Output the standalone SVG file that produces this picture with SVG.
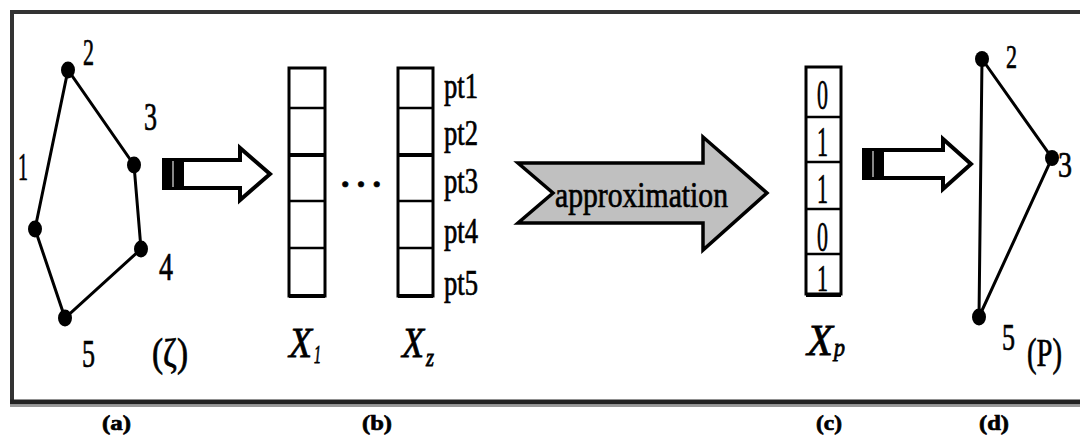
<svg xmlns="http://www.w3.org/2000/svg" width="1080" height="439" viewBox="0 0 1080 439">
<style>
  .t{font-family:"Liberation Serif",serif;fill:#000;stroke:#000;stroke-width:0.7}
  .ti{font-family:"Liberation Serif",serif;font-style:italic;fill:#000;stroke:#000;stroke-width:0.8}
  .edge{stroke:#000;stroke-width:3;fill:none}
  .dot{fill:#000}
  .cell{fill:#fff;stroke:#000;stroke-width:3}
  .div{stroke:#000;stroke-width:2.5}
  .hollow{fill:#fff;stroke:#000;stroke-width:4;stroke-linejoin:miter}
</style>
<rect width="1080" height="439" fill="#fff"/>
<!-- frame -->
<g id="frame">
  <path d="M1080 12 H12 V402" fill="none" stroke="#333" stroke-width="4"/>
  <line x1="10" y1="402" x2="1080" y2="402" stroke="#222" stroke-width="5"/>
  <line x1="10" y1="406" x2="1080" y2="406" stroke="#999" stroke-width="2"/>
</g>
<!-- connectors -->
<g id="connectors">
  <g id="arrow-ab">
    <rect x="162" y="158" width="20" height="32" fill="#000"/>
    <line x1="173" y1="161" x2="173" y2="187" stroke="#888" stroke-width="2"/>
    <polygon class="hollow" points="182,160 240,160 240,148 270,174 240,200 240,188 182,188"/>
  </g>
  <g id="arrow-approx">
    <polygon points="518,163 703,163 703,137 767,193 703,250 703,223 518,223 553,193" fill="#c0c0c0" stroke="#000" stroke-width="3.5" stroke-linejoin="miter"/>
    <text class="t" x="555" y="207" font-size="36" stroke-width="1.2" textLength="173" lengthAdjust="spacingAndGlyphs">approximation</text>
  </g>
  <g id="arrow-cd">
    <rect x="862" y="148" width="20" height="32" fill="#000"/>
    <line x1="873" y1="151" x2="873" y2="177" stroke="#888" stroke-width="2"/>
    <polygon class="hollow" points="882,150 943,150 943,139 971,164 943,189 943,178 882,178"/>
  </g>
</g>
<!-- panel a -->
<g id="polygon-zeta">
  <polygon class="edge" points="35,229 68,70 134,165 141,249 65,318"/>
  <ellipse class="dot" cx="68" cy="70" rx="7" ry="8.5"/>
  <ellipse class="dot" cx="134" cy="165" rx="7" ry="8.5"/>
  <ellipse class="dot" cx="141" cy="249" rx="7" ry="8.5"/>
  <ellipse class="dot" cx="65" cy="318" rx="7" ry="8.5"/>
  <ellipse class="dot" cx="35" cy="229" rx="7" ry="8.5"/>
  <text class="t" x="18" y="180" font-size="40" textLength="10" lengthAdjust="spacingAndGlyphs">1</text>
  <text class="t" x="83" y="65" font-size="38" textLength="11" lengthAdjust="spacingAndGlyphs">2</text>
  <text class="t" x="144" y="130" font-size="40" textLength="13" lengthAdjust="spacingAndGlyphs">3</text>
  <text class="t" x="159" y="280" font-size="40" textLength="14" lengthAdjust="spacingAndGlyphs">4</text>
  <text class="t" x="82" y="367" font-size="40" textLength="13" lengthAdjust="spacingAndGlyphs">5</text>
  <text class="t" x="152" y="366" font-size="40" textLength="36" lengthAdjust="spacingAndGlyphs">(ζ)</text>
</g>
<!-- panel b -->
<g id="vector-x1">
  <rect class="cell" x="289" y="68" width="36" height="228"/>
  <line class="div" x1="289" y1="108" x2="325" y2="108"/>
  <line x1="289" y1="155" x2="325" y2="155" stroke="#000" stroke-width="4"/>
  <line class="div" x1="289" y1="201" x2="325" y2="201"/>
  <line class="div" x1="289" y1="248" x2="325" y2="248"/>
  <line x1="289" y1="296" x2="325" y2="296" stroke="#000" stroke-width="4"/>
  <text class="ti" x="289" y="357" font-size="42" textLength="23" lengthAdjust="spacingAndGlyphs">X</text>
  <text class="ti" x="314" y="363" font-size="26" textLength="7" lengthAdjust="spacingAndGlyphs">1</text>
</g>
<g id="ellipsis">
  <text class="t" x="341" y="187" font-size="34" font-weight="bold" textLength="40" lengthAdjust="spacing">...</text>
</g>
<g id="vector-xz">
  <rect class="cell" x="398" y="68" width="35" height="228"/>
  <line class="div" x1="398" y1="108" x2="433" y2="108"/>
  <line x1="398" y1="155" x2="433" y2="155" stroke="#000" stroke-width="4"/>
  <line class="div" x1="398" y1="201" x2="433" y2="201"/>
  <line class="div" x1="398" y1="248" x2="433" y2="248"/>
  <line x1="398" y1="296" x2="433" y2="296" stroke="#000" stroke-width="4"/>
  <text class="ti" x="402" y="357" font-size="42" textLength="22" lengthAdjust="spacingAndGlyphs">X</text>
  <text class="ti" x="426" y="366" font-size="26" textLength="8" lengthAdjust="spacingAndGlyphs">z</text>
  <text class="t" x="444" y="98" font-size="35" textLength="34" lengthAdjust="spacingAndGlyphs">pt1</text>
  <text class="t" x="444" y="145" font-size="35" textLength="34" lengthAdjust="spacingAndGlyphs">pt2</text>
  <text class="t" x="444" y="193" font-size="35" textLength="34" lengthAdjust="spacingAndGlyphs">pt3</text>
  <text class="t" x="444" y="243" font-size="35" textLength="34" lengthAdjust="spacingAndGlyphs">pt4</text>
  <text class="t" x="444" y="295" font-size="35" textLength="34" lengthAdjust="spacingAndGlyphs">pt5</text>
</g>
<!-- panel c -->
<g id="vector-xp">
  <rect class="cell" x="806" y="67" width="35" height="227"/>
  <line class="div" x1="806" y1="117" x2="841" y2="117"/>
  <line class="div" x1="806" y1="162" x2="841" y2="162"/>
  <line class="div" x1="806" y1="209" x2="841" y2="209"/>
  <line class="div" x1="806" y1="254" x2="841" y2="254"/>
  <line x1="806" y1="295" x2="841" y2="295" stroke="#000" stroke-width="4"/>
  <text class="t" x="817" y="109" font-size="42" textLength="11" lengthAdjust="spacingAndGlyphs">0</text>
  <text class="t" x="817" y="156" font-size="42" textLength="11" lengthAdjust="spacingAndGlyphs">1</text>
  <text class="t" x="817" y="203" font-size="42" textLength="11" lengthAdjust="spacingAndGlyphs">1</text>
  <text class="t" x="817" y="251" font-size="42" textLength="11" lengthAdjust="spacingAndGlyphs">0</text>
  <text class="t" x="817" y="291" font-size="38" textLength="11" lengthAdjust="spacingAndGlyphs">1</text>
  <text class="ti" x="807" y="355" font-size="44" textLength="26" lengthAdjust="spacingAndGlyphs">X</text>
  <text class="ti" x="834" y="356" font-size="26" textLength="11" lengthAdjust="spacingAndGlyphs">p</text>
</g>
<!-- panel d -->
<g id="polygon-p">
  <polygon class="edge" points="982,59 1052,158 979,317"/>
  <ellipse class="dot" cx="982" cy="59" rx="7" ry="8"/>
  <ellipse class="dot" cx="1052" cy="158" rx="7" ry="8"/>
  <ellipse class="dot" cx="979" cy="317" rx="7" ry="8.5"/>
  <text class="t" x="1006" y="68" font-size="34" textLength="11" lengthAdjust="spacingAndGlyphs">2</text>
  <text class="t" x="1058" y="177" font-size="36" textLength="14" lengthAdjust="spacingAndGlyphs">3</text>
  <text class="t" x="1002" y="350" font-size="38" textLength="13" lengthAdjust="spacingAndGlyphs">5</text>
  <text class="t" x="1027" y="366" font-size="40" textLength="35" lengthAdjust="spacingAndGlyphs">(P)</text>
</g>
<!-- captions -->
<g id="captions">
  <text class="t" x="102" y="430" font-size="22" font-weight="bold" textLength="29" lengthAdjust="spacingAndGlyphs">(a)</text>
  <text class="t" x="362" y="430" font-size="22" font-weight="bold" textLength="30" lengthAdjust="spacingAndGlyphs">(b)</text>
  <text class="t" x="816" y="430" font-size="22" font-weight="bold" textLength="26" lengthAdjust="spacingAndGlyphs">(c)</text>
  <text class="t" x="979" y="430" font-size="22" font-weight="bold" textLength="30" lengthAdjust="spacingAndGlyphs">(d)</text>
</g>
</svg>
